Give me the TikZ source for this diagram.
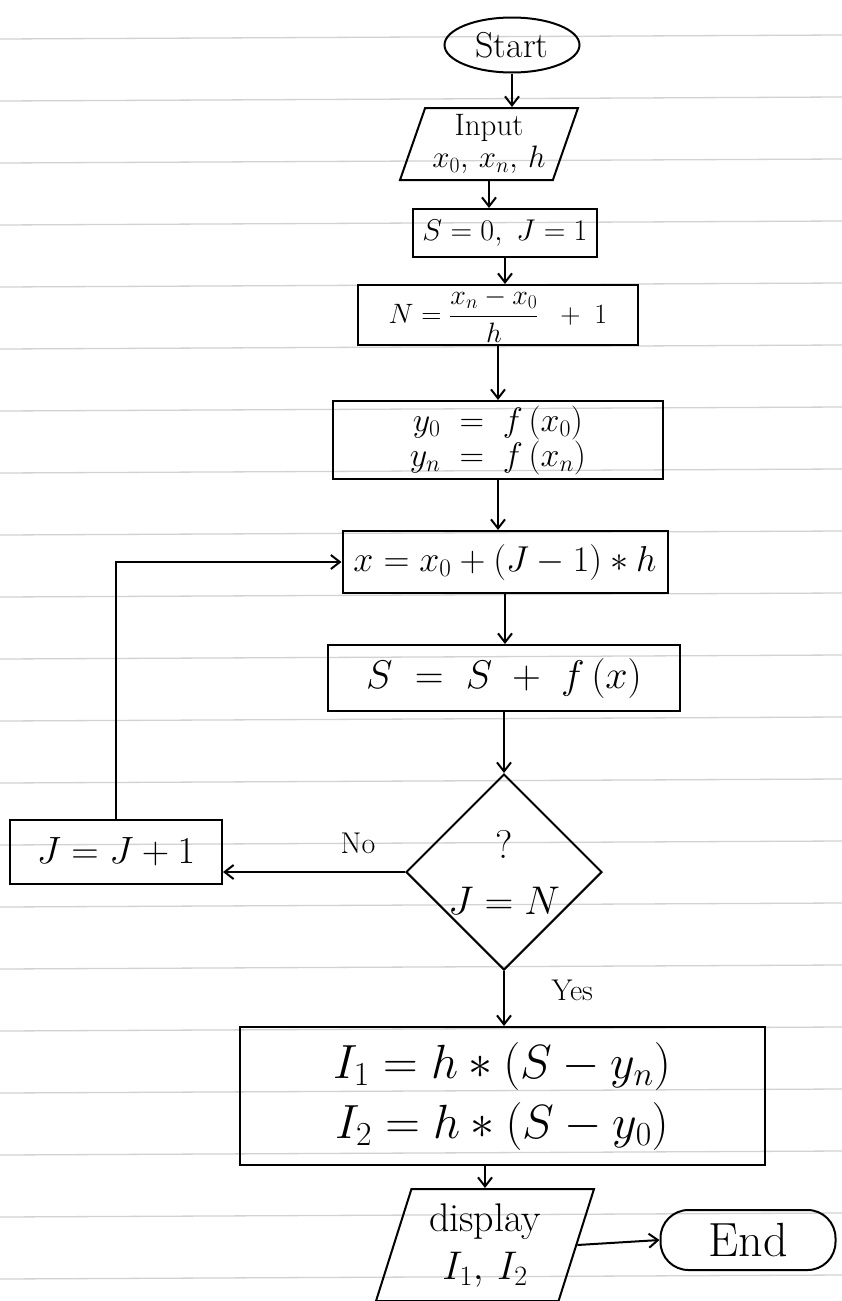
\RequirePackage{fix-cm}
\documentclass[tikz,border=0pt]{standalone}
\usetikzlibrary{shapes.geometric,arrows.meta}
\begin{document}
\begin{tikzpicture}[x=1pt,y=-1pt,
  every node/.style={font=\fontsize{30}{34}\selectfont},
  ink/.style={draw=black,line width=2pt},
  proc/.style={ink,rectangle,inner sep=0pt,align=center},
  io/.style={ink,trapezium,trapezium left angle=67,trapezium right angle=113,trapezium stretches body,inner sep=0pt,align=center},
  term/.style={ink,ellipse,inner sep=0pt},
  decide/.style={ink,diamond,inner sep=0pt,align=center},
  flow/.style={line width=2pt,-{Straight Barb[length=9pt,width=14pt,line width=2pt]}},
  rule/.style={draw=gray!35,line width=1.3pt}
]
\useasboundingbox (0,0) rectangle (842,1301);
\fill[white] (0,0) rectangle (842,1301);
% ruled paper
\foreach \yy in {39,101,163,225,287,349,411,473,535,597,659,721,783,845,907,969,1031,1093,1155,1217,1279}
  \draw[rule] (0,\yy) -- (842,\yy-4);

\node[term,minimum width=135pt,minimum height=55pt,font=\fontsize{36}{40}\selectfont] (start) at (512,45) {Start};
\node[io,minimum width=178pt,minimum height=72pt,font=\fontsize{31}{32}\selectfont] (input) at (489,144) {Input\\$x_0,\, x_n,\, h$};
\node[proc,minimum width=184pt,minimum height=48pt,font=\fontsize{30}{36}\selectfont] (init) at (505,233) {$S=0,\ J=1$};
\node[proc,minimum width=280pt,minimum height=60pt,font=\fontsize{28}{30}\selectfont] (nn) at (498,315) {$\displaystyle N=\frac{x_n-x_0}{h}\;\;+\;1$};
\node[proc,minimum width=330pt,minimum height=78pt,font=\fontsize{34}{35}\selectfont] (yy) at (498,440) {$y_0 \;=\; f\,(x_0)$\\$y_n \;=\; f\,(x_n)$};
\node[proc,minimum width=325pt,minimum height=62pt,font=\fontsize{36}{40}\selectfont] (xx) at (505,562) {$x = x_0 + (J-1)*h$};
\node[proc,minimum width=352pt,minimum height=66pt,font=\fontsize{40}{44}\selectfont] (ss) at (504,678) {$S \;=\; S \;+\; f\,(x)$};
\node[decide,minimum width=160pt,minimum height=192pt,font=\fontsize{40}{56}\selectfont] (dec) at (504,872) {?\\$J=N$};
\node[proc,minimum width=212pt,minimum height=64pt,font=\fontsize{38}{40}\selectfont] (jj) at (116,852) {$J=J+1$};
\node[proc,minimum width=525pt,minimum height=138pt,font=\fontsize{48}{60}\selectfont] (ii) at (502,1096) {$I_1 = h*(S-y_n)$\\$I_2 = h*(S-y_0)$};
\node[io,minimum width=218pt,minimum height=112pt,font=\fontsize{40}{48}\selectfont] (disp) at (485,1245) {display\\$I_1,\, I_2$};
\node[ink,rectangle,rounded corners=28pt,minimum width=175pt,minimum height=60pt,font=\fontsize{48}{54}\selectfont] (end) at (748,1240) {End};

\node (nolab) at (358,843) {No};
\node[anchor=west] (yeslab) at (548,990) {Yes};

\draw[flow] (start.south) -- (start.south |- input.north);
\draw[flow] (input.south) -- (init.north -| input.south);
\draw[flow] (init) -- (init.south |- nn.north);
\draw[flow] (nn) -- (nn.south |- yy.north);
\draw[flow] (yy) -- (yy.south |- xx.north);
\draw[flow] (xx) -- (xx.south |- ss.north);
\draw[flow] (ss.south) -- (dec.north);
\draw[flow] (dec.west) -- (jj.east |- dec.west);
\draw[flow] (jj.north) -- (jj.north |- xx.west) -- (xx.west);
\draw[flow] (dec.south) -- (dec.south |- ii.north);
\draw[flow] (ii.south -| disp.north) -- (disp.north);
\draw[flow] (disp.east) -- (end.west);
\end{tikzpicture}
\end{document}
